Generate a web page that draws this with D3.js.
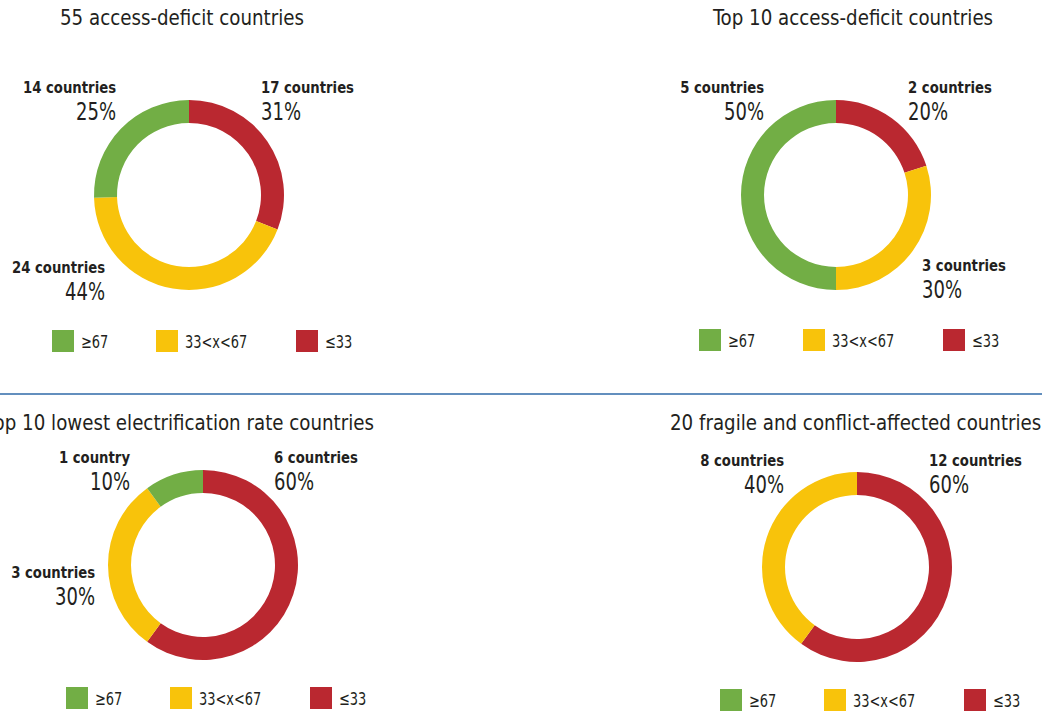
<!DOCTYPE html>
<html><head><meta charset="utf-8">
<script src="https://cdn.jsdelivr.net/npm/d3@7"></script>
<style>
html,body{margin:0;padding:0;background:#fff;}
svg{display:block;font-family:"Liberation Sans Narrow","DejaVu Sans Condensed","Arial Narrow","DejaVu Sans",sans-serif;}
</style></head>
<body>
<svg id="c" width="1042" height="715"></svg>
<script>
// ---- data ----
const titles = ["55 access-deficit countries","Top 10 access-deficit countries","Top 10 lowest electrification rate countries","20 fragile and conflict-affected countries"];
const categories = ["≤33","33<x<67","≥67"];           // slice order clockwise from 12 o'clock
const legendOrder = ["≥67","33<x<67","≤33"];
const counts = [[17,24,14],[2,3,5],[6,3,1],[12,8,0]];
const percents = [[31,44,25],[20,30,50],[60,30,10],[60,40,0]];
const countLabels = [["17 countries","24 countries","14 countries"],["2 countries","3 countries","5 countries"],["6 countries","3 countries","1 country"],["12 countries","8 countries",""]];
const colors = {"≥67":"#72ae45","33<x<67":"#f8c30b","≤33":"#ba2830"};

// ---- layout ----
const panels = [
  {cx:189,cy:195,title:{x:182,y:25,anchor:"middle"},legendY:330,
   labels:[{dx:72,dy:-102,a:"start"},{dx:-84,dy:78,a:"end"},{dx:-73,dy:-102,a:"end"}]},
  {cx:836,cy:195,title:{x:853,y:25,anchor:"middle"},legendY:329,
   labels:[{dx:72,dy:-102,a:"start"},{dx:86,dy:76,a:"start"},{dx:-72,dy:-102,a:"end"}]},
  {cx:203,cy:565,title:{x:374,y:430,anchor:"end"},legendY:687,
   labels:[{dx:71,dy:-102,a:"start"},{dx:-108,dy:13,a:"end"},{dx:-73,dy:-102,a:"end"}]},
  {cx:857,cy:567,title:{x:670,y:430,anchor:"start"},legendY:689,
   labels:[{dx:72,dy:-101,a:"start"},{dx:-73,dy:-101,a:"end"},null]}
];
const outerR = 95, innerR = 72;
const ink = "#231f20";

function condense(sel, k){
  sel.each(function(){
    const w = this.getComputedTextLength();
    d3.select(this).attr("textLength", w*k).attr("lengthAdjust","spacingAndGlyphs");
  });
  return sel;
}

const svg = d3.select("#c");
svg.append("line").attr("x1",0).attr("x2",1042).attr("y1",394).attr("y2",394)
  .attr("stroke","#2f6aa9").attr("stroke-width",1.5);

const pie = d3.pie().sort(null).value(d=>d.v);
const arc = d3.arc().innerRadius(innerR).outerRadius(outerR);
const legendX = d3.scaleOrdinal().domain(legendOrder).range([-137,-33,107]);

panels.forEach((p,i)=>{
  const g = svg.append("g");
  condense(g.append("text").attr("x",p.title.x).attr("y",p.title.y).attr("text-anchor",p.title.anchor)
    .attr("font-size",21).attr("fill",ink).text(titles[i]), 0.965);
  const data = categories.map((c,j)=>({c, v:counts[i][j], pct:percents[i][j], lab:countLabels[i][j], pos:p.labels[j]}));
  const dg = g.append("g").attr("transform",`translate(${p.cx},${p.cy})`);
  dg.selectAll("path").data(pie(data)).join("path")
    .attr("d",arc).attr("fill",d=>colors[d.data.c]);
  data.forEach(d=>{
    if(!d.v || !d.pos) return;
    condense(dg.append("text").attr("x",d.pos.dx).attr("y",d.pos.dy).attr("text-anchor",d.pos.a)
      .attr("font-size",15).attr("font-weight","bold").attr("fill",ink).text(d.lab), 0.98);
    condense(dg.append("text").attr("x",d.pos.dx).attr("y",d.pos.dy+27).attr("text-anchor",d.pos.a)
      .attr("font-size",25).attr("fill",ink).text(d.pct+"%"), 0.8);
  });
  const lg = g.append("g").attr("transform",`translate(${p.cx},${p.legendY})`);
  legendOrder.forEach(c=>{
    lg.append("rect").attr("x",legendX(c)).attr("y",0).attr("width",22).attr("height",22).attr("fill",colors[c]);
    condense(lg.append("text").attr("x",legendX(c)+29).attr("y",18).attr("font-size",18).attr("fill",ink).text(c), 0.8);
  });
});
</script>
</body></html>
